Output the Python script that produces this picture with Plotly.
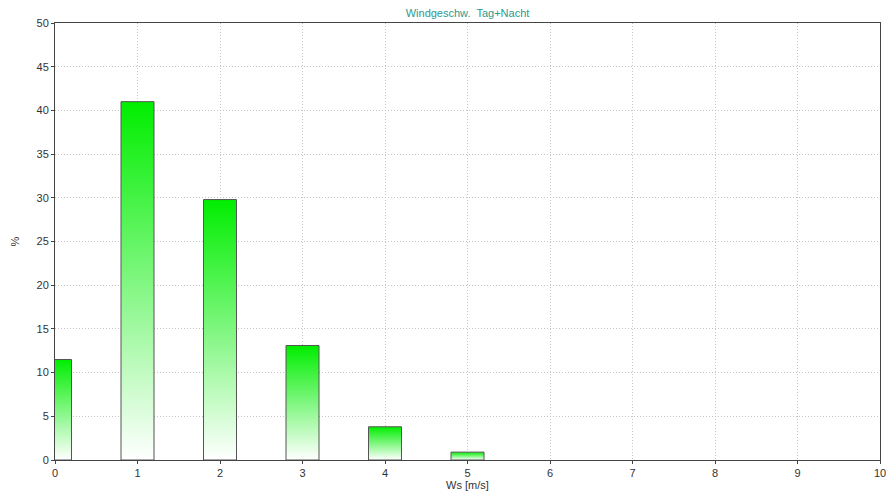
import plotly.graph_objects as go

# Wind speed class [m/s] and frequency [%]
ws_class = [0, 1, 2, 3, 4, 5]
freq_pct = [11.5, 41.0, 29.8, 13.1, 3.8, 0.9]

TITLE = "Windgeschw.  Tag+Nacht"
X_TITLE = "Ws [m/s]"
Y_TITLE = "%"

BAR_HALF = 0.2
FONT = "Liberation Sans, Arial, sans-serif"

fig = go.Figure()

# bars as filled polygons so each one gets its own vertical gradient
for x, v in zip(ws_class, freq_pct):
    fig.add_trace(go.Scatter(
        x=[x - BAR_HALF, x - BAR_HALF, x + BAR_HALF, x + BAR_HALF, x - BAR_HALF],
        y=[0, v, v, 0, 0],
        mode="lines",
        fill="toself",
        fillgradient=dict(type="vertical",
                          colorscale=[[0, "#ffffff"], [1, "#00ee00"]]),
        line=dict(color="#555555", width=1),
        hovertemplate=f"{x} m/s: {v}%<extra></extra>",
        showlegend=False,
    ))

# the page body adds 8px around the figure, so it is sized to avoid scrollbars
fig.update_layout(
    width=878,
    height=483,
    margin=dict(l=47, r=6, t=15, b=31),
    paper_bgcolor="white",
    plot_bgcolor="white",
    font=dict(family=FONT, size=11, color="#333333"),
    title=dict(text=TITLE, x=0.5, xref="paper", y=0.989, yanchor="middle",
               font=dict(family=FONT, size=11, color="#2a9a90")),
)

fig.update_xaxes(
    range=[0, 10], dtick=1, tick0=0, automargin=False,
    ticklabeloverflow="allow",
    showgrid=True, gridcolor="#c4c4c4", griddash="1px,2px", gridwidth=1,
    showline=True, linecolor="#444444", linewidth=1, mirror=True,
    ticks="outside", ticklen=3, tickcolor="#444444",
    zeroline=False,
    title=dict(text=X_TITLE, standoff=5, font=dict(size=11)),
)
fig.update_yaxes(
    range=[0, 50], dtick=5, tick0=0, automargin=False,
    showgrid=True, gridcolor="#c4c4c4", griddash="1px,2px", gridwidth=1,
    showline=True, linecolor="#444444", linewidth=1, mirror=True,
    ticks="outside", ticklen=3, tickcolor="#444444",
    zeroline=False,
    title=dict(text=Y_TITLE, standoff=14, font=dict(size=11)),
)

fig.write_html("out.html")
